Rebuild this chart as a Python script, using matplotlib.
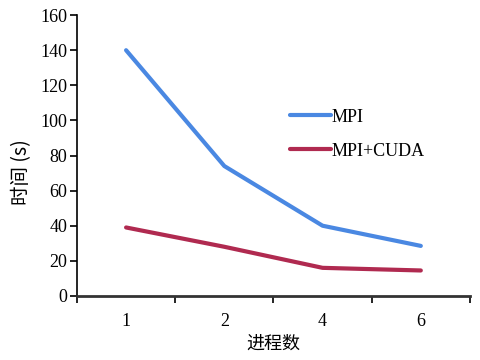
import matplotlib
matplotlib.use("Agg")
import matplotlib.pyplot as plt
import numpy as np

categories = ["1", "2", "4", "6"]
mpi = [140, 74, 40, 28.5]
mpi_cuda = [39, 28, 16, 14.5]
yticks = [0, 20, 40, 60, 80, 100, 120, 140, 160]

plt.rcParams['font.family'] = ['Liberation Serif', 'Noto Sans CJK SC']

fig = plt.figure(figsize=(4.81, 3.6), dpi=100)
ax = fig.add_axes([0.160, 0.178, 0.817, 0.780])

x = np.arange(len(categories))
ax.plot(x, mpi, color='#4a88e2', lw=3, label='MPI', solid_capstyle='round')
ax.plot(x, mpi_cuda, color='#b02a50', lw=3, label='MPI+CUDA', solid_capstyle='round')

ax.set_xlim(-0.5, len(categories) - 0.5)
ax.set_ylim(0, 160)
ax.set_yticks(yticks)
ax.set_yticklabels([str(v) for v in yticks], fontsize=13)
ax.set_xticks(x)
ax.set_xticklabels(categories, fontsize=13)
ax.tick_params(axis='x', which='major', length=0, pad=12)
ax.set_xticks(np.arange(-0.5, len(categories)), minor=True)
ax.tick_params(axis='x', which='minor', length=5, width=1.2, direction='out')
ax.tick_params(axis='y', length=5, width=1.2, direction='out', pad=2)

for s in ['top', 'right']:
    ax.spines[s].set_visible(False)
ax.spines['left'].set_linewidth(1.2)
ax.spines['bottom'].set_linewidth(2)
ax.spines['bottom'].set_color('#333333')

ax.set_xlabel('进程数', family=['Noto Sans CJK SC'], fontsize=13, labelpad=4)
ax.set_ylabel('时间 (s)', family=['Noto Sans CJK SC', 'Liberation Serif'], fontsize=14)
ax.yaxis.set_label_coords(-0.115, 0.44)

leg = ax.legend(loc='upper left', bbox_to_anchor=(0.50, 0.725), frameon=False,
                fontsize=13, handlelength=2.3, handletextpad=0.0, labelspacing=0.95)

fig.savefig('out.png', dpi=100)
